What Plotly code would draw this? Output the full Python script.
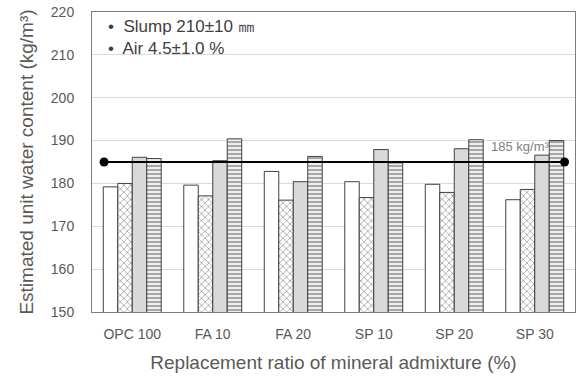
import plotly.graph_objects as go

categories = ["OPC 100", "FA 10", "FA 20", "SP 10", "SP 20", "SP 30"]
series_a = [179.2, 179.6, 182.8, 180.4, 179.8, 176.2]   # white
series_b = [180.0, 177.1, 176.1, 176.7, 177.9, 178.6]   # zigzag pattern
series_c = [186.1, 185.3, 180.4, 187.9, 188.1, 186.6]   # gray
series_d = [185.8, 190.4, 186.3, 184.8, 190.2, 190.0]   # striped
ref_value = 185
ref_x = [-0.35, 5.37]
y_ticks = [150, 160, 170, 180, 190, 200, 210, 220]

xi = list(range(len(categories)))
edge = dict(color="#404040", width=1)

fig = go.Figure()
fig.add_trace(go.Bar(x=xi, y=series_a, marker=dict(color="white", line=edge), showlegend=False))
fig.add_trace(go.Bar(x=xi, y=series_b, marker=dict(color="white", line=edge,
                     pattern=dict(shape="x", fgcolor="#222222", bgcolor="white", size=5, solidity=0.25)),
                     showlegend=False))
fig.add_trace(go.Bar(x=xi, y=series_c, marker=dict(color="#d9d9d9", line=edge), showlegend=False))
fig.add_trace(go.Bar(x=xi, y=series_d, marker=dict(color="#e6e6e6", line=edge,
                     pattern=dict(shape="-", fgcolor="#505050", bgcolor="#eeeeee", size=4, solidity=0.45)),
                     showlegend=False))
fig.add_trace(go.Scatter(x=ref_x, y=[ref_value, ref_value], mode="lines+markers",
                         line=dict(color="black", width=2),
                         marker=dict(color="black", size=9), showlegend=False))

fig.add_annotation(x=5.2, y=ref_value + 3.7, xref="x", yref="y", text="185 kg/m³",
                   showarrow=False, xanchor="right", yanchor="middle",
                   font=dict(family="Liberation Sans, Arial, sans-serif", size=13, color="#7f7f7f"))
fig.add_annotation(x=0.03, y=0.99, xref="paper", yref="paper", xanchor="left", yanchor="top",
                   text="•  Slump 210±10 ㎜<br>•  Air 4.5±1.0 %", align="left", showarrow=False,
                   font=dict(family="Liberation Sans, Arial, sans-serif", size=17, color="#404040"))

fig.update_layout(
    width=580, height=379,
    margin=dict(l=92, r=4, t=10, b=67),
    plot_bgcolor="white", paper_bgcolor="white",
    barmode="group", bargap=0.28, bargroupgap=0,
    xaxis=dict(tickvals=xi, ticktext=categories, range=[-0.5, 5.5],
               showline=True, linecolor="#7f7f7f", linewidth=1, mirror=True,
               ticks="", showgrid=False, zeroline=False, ticklabelstandoff=9,
               tickfont=dict(family="Liberation Sans, Arial, sans-serif", size=14, color="#595959"),
               title=dict(text="Replacement ratio of mineral admixture (%)", standoff=14,
                          font=dict(family="Liberation Sans, Arial, sans-serif", size=19, color="#595959"))),
    yaxis=dict(range=[150, 220], tickvals=y_ticks, showline=True, linecolor="#7f7f7f",
               linewidth=1, mirror=True, ticks="", showgrid=True, gridcolor="#d9d9d9",
               zeroline=False, ticklabelstandoff=14,
               tickfont=dict(family="Liberation Sans, Arial, sans-serif", size=14, color="#595959"),
               title=dict(text="Estimated unit water content (kg/m³)", standoff=12,
                          font=dict(family="Liberation Sans, Arial, sans-serif", size=19, color="#595959"))),
)

fig.write_html("out.html")
